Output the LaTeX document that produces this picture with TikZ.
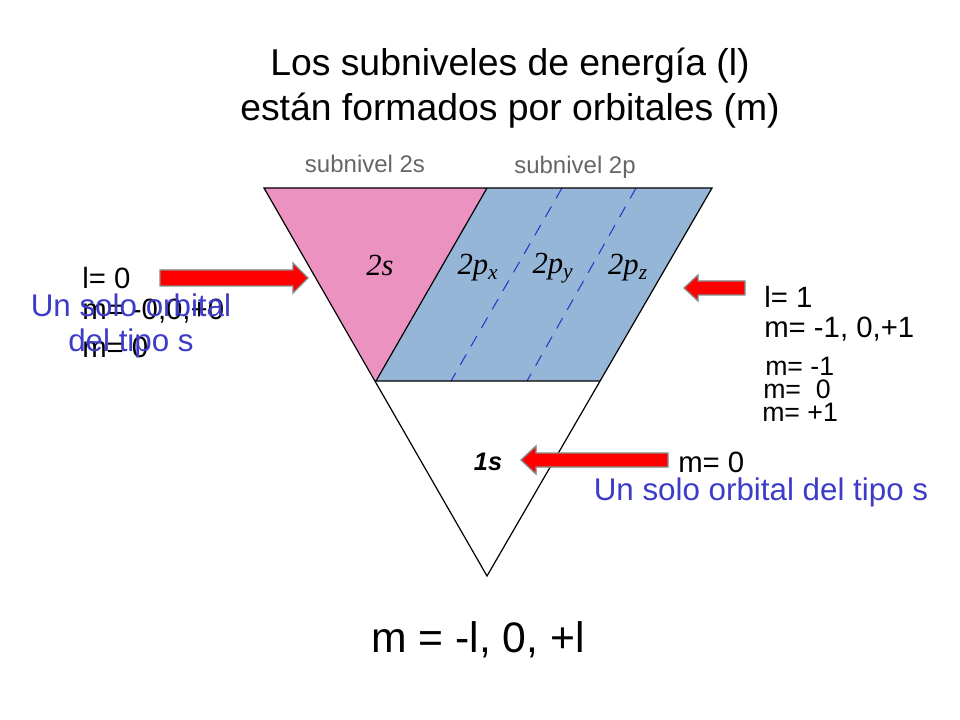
\documentclass[tikz,border=0pt]{standalone}
\usepackage{fontspec}
\setmainfont{Liberation Sans}
\newfontfamily\orbserif{Liberation Serif}
\begin{document}
\begin{tikzpicture}[x=0.75pt,y=-0.75pt,
  lbl/.style={anchor=west,inner sep=0pt,font=\fontsize{22}{24}\selectfont},
  sml/.style={anchor=west,inner sep=0pt,font=\fontsize{20}{22}\selectfont},
  blu/.style={text={rgb,255:red,60;green,60;blue,200},inner sep=0pt,font=\fontsize{23.5}{25}\selectfont},
  orb/.style={inner sep=0pt,font=\fontsize{23}{25}\selectfont\orbserif\itshape},
  sub/.style={inner sep=0pt,text=gray!80!black,font=\fontsize{18}{20}\selectfont},
  redarrow/.style={draw={rgb,255:red,130;green,140;blue,140},fill=red,line width=1pt}]
\useasboundingbox (0,0) rectangle (960,720);
\coordinate (TL) at (264,188); \coordinate (TM) at (487,188); \coordinate (TR) at (712,188);
\coordinate (ML) at (376,381); \coordinate (MR) at (600,381); \coordinate (B) at (487,576);
\fill[fill={rgb,255:red,236;green,146;blue,192}] (TL)--(TM)--(ML)--cycle;
\fill[fill={rgb,255:red,150;green,182;blue,216}] (TM)--(TR)--(MR)--(ML)--cycle;
\draw[dash pattern=on 9pt off 7pt,blue!60!gray,line width=0.8pt] (562,188)--(451,381) (636,188)--(527,381);
\draw[line width=0.9pt] (TL)--(TR)--(B)--cycle (TM)--(ML)--(MR);
\node[orb] (s2) at (380,265) {2s};
\node[orb] (px) at (478,268) {2p\textsubscript{x}};
\node[orb] (py) at (553,268) {2p\textsubscript{y}};
\node[orb] (pz) at (628,268) {2p\textsubscript{z}};
\node[inner sep=0pt,font=\fontsize{19}{20}\selectfont\bfseries\itshape] (s1) at (488,462) {1s};
\node[sub] (sub2s) at (365,164) {subnivel 2s};
\node[sub] (sub2p) at (575,167) {subnivel 2p};
\node[font=\fontsize{28}{34}\selectfont,align=center] (title) at (510,88) {Los subniveles de energía (l)\\están formados por orbitales (m)};
\node[font=\fontsize{32}{34}\selectfont] (form) at (478,640) {m = -l, 0, +l};
% arrows
\draw[redarrow] (160,270)--(293,270)--(293,263)--(308,278)--(293,293)--(293,286)--(160,286)--cycle;
\draw[redarrow] (745,281)--(698,281)--(698,275)--(684,288)--(698,301)--(698,295)--(745,295)--cycle;
\draw[redarrow] (668,453)--(536,453)--(536,446)--(521,460)--(536,474)--(536,467)--(668,467)--cycle;
\node[lbl] (l0) at (82,278) {l= 0};
\node[lbl] (m0a) at (82,311) {m= -0,0,+0};
\node[lbl] (m0b) at (82,347) {m= 0};
\node[blu] (u1) at (131,305) {Un solo orbital};
\node[blu] (u2) at (131,343) {del tipo s};
\node[lbl] (l1) at (764,297) {l= 1};
\node[lbl] (m1) at (764,329) {m= -1, 0,+1};
\node[sml] (m2) at (765,366) {m= -1};
\node[sml] (m3) at (763,389) {m= \ 0};
\node[sml] (m4) at (762,412) {m= +1};
\node[lbl] (m5) at (678,462) {m= 0};
\node[blu] (u3) at (761,492) {Un solo orbital del tipo s};
\end{tikzpicture}
\end{document}
